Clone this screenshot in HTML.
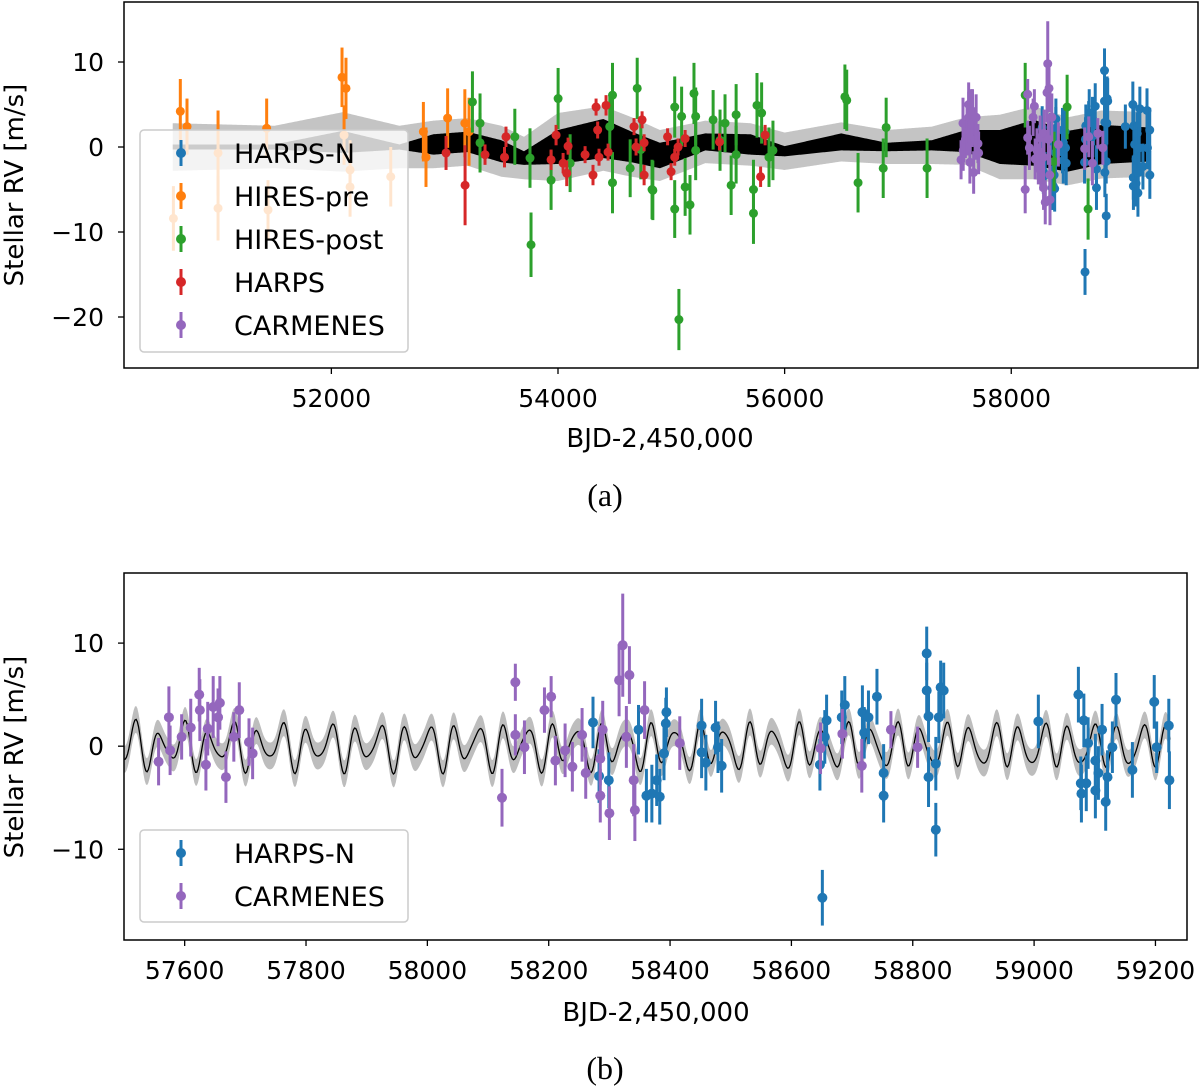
<!DOCTYPE html>
<html><head><meta charset="utf-8">
<style>
html,body{margin:0;padding:0;background:#fff;}
svg{display:block;font-family:"DejaVu Sans","Liberation Sans",sans-serif;}
</style></head>
<body>
<svg id="chart" width="1200" height="1087" viewBox="0 0 1200 1087" xmlns="http://www.w3.org/2000/svg"></svg>
<script>
// ---------------- data ----------------
const harpsnDays=[58273,58283,58299,58348,58361,58370,58378,58383,58390,58393,58394,58452,58452,58459,58475,58479,58485,58647,58651,58655,58658,58683,58688,58717,58720,58727,58741,58752,58752,58823,58823,58826,58826,58838,58838,58846,58851,58843,59007,59073,59077,59078,59082,59086,59089,59101,59101,59106,59112,59118,59121,59129,59135,59162,59198,59202,59222,59223];
const harpsnRV=[2.3,-2.9,-3.3,1.6,-4.8,-4.6,-3.3,-4.9,-0.7,2.2,3.3,2.0,-0.6,-1.6,1.8,-0.1,-1.9,-1.8,-14.7,0.9,2.5,2.8,4.0,3.3,1.3,2.8,4.8,-2.6,-4.8,9.0,5.4,2.9,-3.0,-1.7,-8.1,5.7,5.4,2.8,2.4,5.0,-3.6,-4.6,2.5,-3.6,0.3,-1.4,-4.3,-2.6,1.6,-5.4,-3.0,-0.1,4.5,-2.3,4.3,-0.1,2.0,-3.3];
const harpsnErr=[2.5,2.6,2.7,2.4,2.6,2.8,2.5,2.7,2.6,2.5,2.4,2.6,2.5,2.7,2.6,2.5,2.6,2.5,2.7,2.6,2.5,2.6,2.8,2.6,2.5,2.6,2.7,2.8,2.6,2.6,2.7,2.5,2.9,2.6,2.6,2.6,2.7,2.5,2.6,2.7,2.6,2.8,2.6,2.7,2.5,2.6,2.7,2.6,2.5,2.8,2.6,2.5,2.6,2.7,2.6,2.5,2.6,2.8];
const carmDays=[57557,57574,57576,57595,57610,57624,57625,57635,57638,57647,57655,57658,57668,57681,57690,57706,57712,58123,58145,58145,58160,58193,58204,58211,58227,58239,58255,58261,58285,58285,58289,58300,58316,58322,58328,58333,58340,58342,58358,58416,58648,58684,58716,58764,58808];
const carmRV=[-1.5,2.8,-0.4,0.9,1.8,5.0,3.5,-1.8,1.7,3.8,2.8,4.2,-3.0,0.9,3.5,0.4,-0.7,-5.0,6.2,1.1,-0.1,3.5,4.8,-1.4,-0.4,-2.0,1.1,-2.6,-1.2,-4.8,1.6,-6.5,6.4,9.8,0.9,6.9,-3.3,-6.2,3.5,0.3,-0.2,1.2,-1.9,1.6,-0.1];
const carmErr=[2.3,3.0,2.4,2.2,2.8,2.6,3.0,2.5,2.6,3.0,2.8,2.6,2.5,2.4,2.7,2.3,2.5,2.8,1.8,2.0,2.6,2.2,2.0,2.4,2.6,2.4,2.6,2.5,2.6,2.6,2.8,2.6,3.5,5.0,3.0,2.8,3.5,3.0,2.8,2.6,2.5,2.4,2.6,1.8,2.0];
const hpreDays=[50606,50667,50726,51000,51000,51429,51441,52094,52112,52129,52165,52165,52524,52812,52835,53026,53178,53215];
const hpreRV=[-8.4,4.2,2.4,-0.7,-7.2,2.2,-7.4,8.2,1.4,6.9,-2.7,-4.7,-3.5,1.8,-1.2,3.4,2.8,1.8];
const hpreErr=[3.8,3.8,3.3,5.0,3.8,3.5,3.5,3.5,3.5,3.6,3.5,3.5,3.5,3.5,3.5,3.5,4.0,4.0];
const hpostDays=[53245,53312,53312,53619,53753,53762,53939,54001,54107,54457,54481,54481,54637,54699,54731,54837,54830,55030,55030,55067,55091,55122,55165,55200,55215,55215,55369,55430,55474,55528,55572,55572,55725,55725,55756,55797,55862,55897,56532,56548,56648,56870,56896,57257,58123,58378,58493,58678];
const hpostRV=[5.3,2.8,0.5,1.2,-1.3,-11.5,-3.9,5.7,-1.9,2.4,6.1,-4.2,-2.5,6.9,-0.3,-5.1,-5.0,4.7,-7.3,-20.3,3.6,-4.7,-6.8,6.3,3.6,-0.4,3.2,0.8,2.8,-4.5,3.8,-0.9,-5.0,-7.8,4.9,4.0,-1.2,-0.4,5.9,5.5,-4.2,-2.5,2.3,-2.5,6.1,-1.7,4.7,-7.3];
const hpostErr=[3.6,3.5,3.5,3.3,3.5,3.8,3.5,3.6,3.4,3.5,3.8,3.6,3.4,3.6,3.5,3.5,3.5,3.6,3.4,3.6,3.5,3.4,3.5,3.6,3.4,3.5,3.5,3.6,3.4,3.5,3.6,3.4,3.5,3.6,3.8,3.6,3.5,3.5,3.8,3.6,3.5,3.5,3.5,3.5,3.8,3.5,3.8,3.6];
const harpsDays=[53012,53180,53356,53528,53541,53939,53983,54045,54077,54089,54239,54309,54336,54350,54362,54424,54442,54671,54689,54742,54760,54760,54967,54998,55030,55060,55122,55425,55788,55828];
const harpsRV=[-0.7,-4.5,-0.9,-1.2,1.2,-1.5,1.4,-1.9,-3.1,0.1,-0.9,-3.3,4.7,2.0,-1.2,4.9,-0.6,2.4,0.0,3.2,0.5,-3.3,1.2,-2.9,-1.2,0.0,1.0,0.6,-3.5,1.4];
const harpsErr=[2.0,4.7,1.2,1.2,1.2,1.2,1.2,1.2,1.5,1.0,1.0,1.2,1.0,1.0,1.0,1.2,1.0,1.0,1.0,1.0,1.0,1.2,1.0,1.0,1.0,1.0,1.0,1.0,1.2,1.2];
// model envelope for panel (a): knot days, centre, black half-width, grey half-width (m/s)
const envDays=[50600,51500,52100,52600,52900,53200,53500,53700,54000,54400,54650,54900,55300,55700,56000,56500,56900,57300,57600,57900,58200,58500,58800,59220];
const envCenter=[0,0,0.6,0,0.3,0.6,-0.5,-1.3,0,1.0,0,-1.0,0.6,0.3,-0.5,0.6,0,0.2,0.7,0,0.5,-0.5,0.3,0.3];
const envBlack=[0.3,0.3,1.3,0.3,1.2,1.2,1.3,0.8,2.0,2.3,1.8,1.5,1.0,1.2,0.6,1.0,0.5,0.6,1.3,2.0,2.7,2.4,2.3,2.0];
const envGrey=[2.8,2.5,3.5,2.5,2.8,2.8,3.0,2.5,4.0,3.8,3.5,3.0,2.5,2.5,2.2,2.3,2.0,2.2,2.8,3.8,4.3,4.0,4.0,3.8];
// model components for panel (b)
const modelPeriods=[40.5,27.3,80.0];
const modelAmps=[1.8,0.6,0.4];
const modelPhases=[0.3,1.4,2.2];
const ticksAX=[52000,54000,56000,58000];
const ticksAY=[10,0,-10,-20];
const ticksBX=[57600,57800,58000,58200,58400,58600,58800,59000,59200];
const ticksBY=[10,0,-10];

// ---------------- helpers ----------------
const NS="http://www.w3.org/2000/svg";
const svg=document.getElementById('chart');
function mk(tag,attrs,parent){const e=document.createElementNS(NS,tag);for(const k in attrs)e.setAttribute(k,attrs[k]);(parent||svg).appendChild(e);return e;}
const COL={hn:'#1f77b4',pre:'#ff7f0e',post:'#2ca02c',harps:'#d62728',carm:'#9467bd'};

const A={l:124,r:1198,t:2,b:368,x0:50170,x1:59648,y0:-26.0,y1:17.06};
const B={l:124,r:1187,t:573,b:940,x0:57500,x1:59252,y0:-18.8,y1:16.8};
function sx(P,d){return P.l+(d-P.x0)/(P.x1-P.x0)*(P.r-P.l);}
function sy(P,v){return P.b-(v-P.y0)/(P.y1-P.y0)*(P.b-P.t);}
function interp(xs,ys,x){if(x<=xs[0])return ys[0];for(let i=1;i<xs.length;i++){if(x<=xs[i]){const f=(x-xs[i-1])/(xs[i]-xs[i-1]);return ys[i-1]+f*(ys[i]-ys[i-1]);}}return ys[ys.length-1];}
function modelB(d){let s=0;for(let i=0;i<modelPeriods.length;i++)s+=modelAmps[i]*Math.sin(2*Math.PI*d/modelPeriods[i]+modelPhases[i]);return s;}

function series(P,g,days,rv,err,color,name,r){
  const sg=mk('g',{},g);
  
  
  for(let i=0;i<days.length;i++){
    const x=sx(P,days[i]);
    const ln=mk('line',{x1:x,x2:x,y1:sy(P,rv[i]+err[i]),y2:sy(P,rv[i]-err[i]),stroke:color,'stroke-width':3},sg);
    
    
    const c=mk('circle',{cx:x,cy:sy(P,rv[i]),r:r,fill:color},sg);
    
    
  }
}
function axes(P,g,xt,yt,pre){
  const fr=mk('rect',{x:P.l,y:P.t,width:P.r-P.l,height:P.b-P.t,fill:'none',stroke:'#000','stroke-width':1.5},g);
  
  
  xt.forEach(t=>{const x=sx(P,t);
    mk('line',{x1:x,x2:x,y1:P.b,y2:P.b+6,stroke:'#000','stroke-width':1.3},g);
    const tx=mk('text',{x:x,y:P.b+39,'text-anchor':'middle','font-size':25,fill:'#000'},g);tx.textContent=String(t);
    
    });
  yt.forEach(t=>{const y=sy(P,t);
    mk('line',{x1:P.l-6,x2:P.l,y1:y,y2:y,stroke:'#000','stroke-width':1.3},g);
    const tx=mk('text',{x:P.l-20,y:y+9,'text-anchor':'end','font-size':25,fill:'#000'},g);tx.textContent=t<0?'\u2212'+Math.abs(t):String(t);
    
    });
}
function legend(g,x,y,w,h,items,pre){
  const lg=mk('g',{},g);
  
  
  mk('rect',{x:x,y:y,width:w,height:h,rx:4,fill:'rgba(255,255,255,0.8)',stroke:'#cccccc','stroke-width':1.5},lg);
  items.forEach((it,i)=>{const cy=y+23+i*43;
    const e=mk('g',{},lg);
    
    
    mk('line',{x1:x+41,x2:x+41,y1:cy-13,y2:cy+13,stroke:it[1],'stroke-width':3},e);
    mk('circle',{cx:x+41,cy:cy,r:5,fill:it[1]},e);
    const t=mk('text',{x:x+94,y:cy+10,'font-size':27,fill:'#000'},e);t.textContent=it[0];});
}

// ---------------- panel (a) ----------------
const ga=mk('g',{});


(function(){
  const step=10;
  const pts=[];for(let d=envDays[0];d<=envDays[envDays.length-1];d+=step)pts.push(d);
  const top=[],bot=[],btop=[],bbot=[];
  pts.forEach(d=>{const c=interp(envDays,envCenter,d),g=interp(envDays,envGrey,d),b=interp(envDays,envBlack,d);const x=sx(A,d);
    top.push(x+','+sy(A,c+g));bot.push(x+','+sy(A,c-g));btop.push(x+','+sy(A,c+b));bbot.push(x+','+sy(A,c-b));});
  const gp=mk('polygon',{points:top.concat(bot.reverse()).join(' '),fill:'#c4c4c4'},ga);
  
  
  const bp=mk('polygon',{points:btop.concat(bbot.reverse()).join(' '),fill:'#000'},ga);
  
  
})();
series(A,ga,harpsnDays,harpsnRV,harpsnErr,COL.hn,'harps-n',4.5);
series(A,ga,hpreDays,hpreRV,hpreErr,COL.pre,'hires-pre',4.5);
series(A,ga,hpostDays,hpostRV,hpostErr,COL.post,'hires-post',4.5);
series(A,ga,harpsDays,harpsRV,harpsErr,COL.harps,'harps',4.5);
series(A,ga,carmDays,carmRV,carmErr,COL.carm,'carmenes',4.5);
axes(A,ga,ticksAX,ticksAY,'panel-a');
legend(ga,140,130,268,222,[['HARPS-N',COL.hn],['HIRES-pre',COL.pre],['HIRES-post',COL.post],['HARPS',COL.harps],['CARMENES',COL.carm]],'panel-a');
let t=mk('text',{x:660,y:447,'text-anchor':'middle','font-size':26},ga);t.textContent='BJD-2,450,000';

t=mk('text',{x:0,y:0,'text-anchor':'middle','font-size':26,transform:'translate(23,185) rotate(-90)'},ga);t.textContent='Stellar RV [m/s]';

t=mk('text',{x:605,y:506,'text-anchor':'middle','font-size':32,'font-family':'"Liberation Serif",serif'},ga);t.textContent='(a)';


// ---------------- panel (b) ----------------
const gb=mk('g',{});


const clip=mk('clipPath',{id:'cb'},gb);mk('rect',{x:B.l,y:B.t,width:B.r-B.l,height:B.b-B.t},clip);
(function(){
  const top=[],bot=[],line=[];
  for(let d=B.x0;d<=59225;d+=2){const m=modelB(d);const x=sx(B,d);
    top.push(x+','+sy(B,m+1.3));bot.push(x+','+sy(B,m-1.3));line.push(x+','+sy(B,m));}
  const gp=mk('polygon',{points:top.concat(bot.reverse()).join(' '),fill:'#bdbdbd','clip-path':'url(#cb)'},gb);
  
  
  const pl=mk('polyline',{points:line.join(' '),fill:'none',stroke:'#000','stroke-width':1.3,'clip-path':'url(#cb)'},gb);
  
  
})();
series(B,gb,harpsnDays,harpsnRV,harpsnErr,COL.hn,'harps-n',5);
series(B,gb,carmDays,carmRV,carmErr,COL.carm,'carmenes',5);
axes(B,gb,ticksBX,ticksBY,'panel-b');
legend(gb,140,830,268,92,[['HARPS-N',COL.hn],['CARMENES',COL.carm]],'panel-b');
t=mk('text',{x:656,y:1021,'text-anchor':'middle','font-size':26},gb);t.textContent='BJD-2,450,000';

t=mk('text',{x:0,y:0,'text-anchor':'middle','font-size':26,transform:'translate(23,757) rotate(-90)'},gb);t.textContent='Stellar RV [m/s]';

t=mk('text',{x:605,y:1079,'text-anchor':'middle','font-size':32,'font-family':'"Liberation Serif",serif'},gb);t.textContent='(b)';

</script>
</body></html>
